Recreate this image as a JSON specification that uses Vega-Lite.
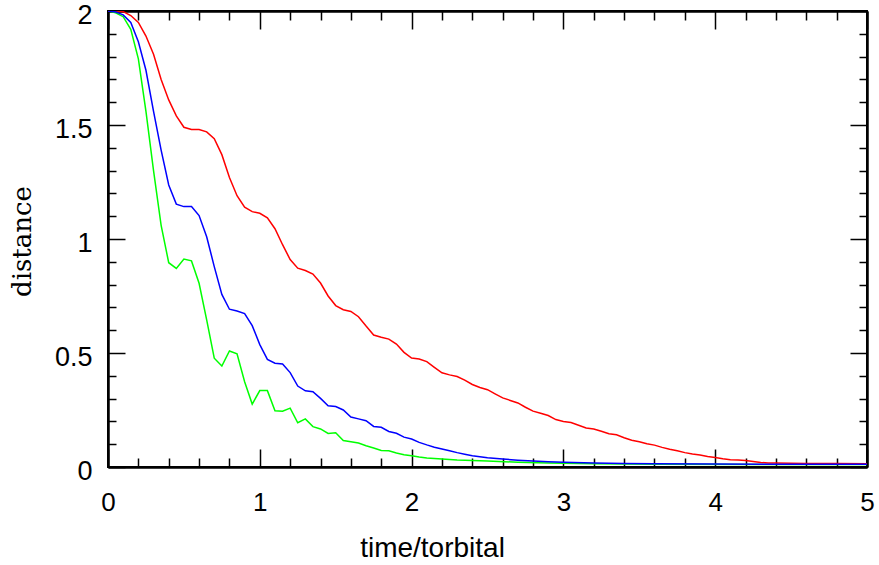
{
  "$schema": "https://vega.github.io/schema/vega-lite/v6.json",
  "width": 759,
  "height": 456,
  "autosize": "none",
  "padding": {"left": 108, "top": 11, "right": 12, "bottom": 98},
  "background": "white",
  "config": {
    "view": {"stroke": "black", "strokeWidth": 2},
    "axis": {"grid": false, "domainColor": "black", "domainWidth": 2, "tickColor": "black", "tickWidth": 1.5, "labelColor": "black", "titleColor": "black"}
  },
  "datasets": {
    "curves": [
      {"s": "green", "t": 0, "d": 2.0}, {"s": "green", "t": 0.05, "d": 1.992}, {"s": "green", "t": 0.1, "d": 1.975}, {"s": "green", "t": 0.15, "d": 1.92}, {"s": "green", "t": 0.2, "d": 1.79}, {"s": "green", "t": 0.25, "d": 1.56}, {"s": "green", "t": 0.3, "d": 1.3}, {"s": "green", "t": 0.35, "d": 1.06}, {"s": "green", "t": 0.4, "d": 0.896}, {"s": "green", "t": 0.45, "d": 0.871}, {"s": "green", "t": 0.5, "d": 0.912}, {"s": "green", "t": 0.55, "d": 0.904}, {"s": "green", "t": 0.6, "d": 0.806}, {"s": "green", "t": 0.65, "d": 0.645}, {"s": "green", "t": 0.7, "d": 0.477}, {"s": "green", "t": 0.75, "d": 0.443}, {"s": "green", "t": 0.8, "d": 0.509}, {"s": "green", "t": 0.85, "d": 0.496}, {"s": "green", "t": 0.9, "d": 0.374}, {"s": "green", "t": 0.95, "d": 0.276}, {"s": "green", "t": 1.0, "d": 0.335}, {"s": "green", "t": 1.05, "d": 0.335}, {"s": "green", "t": 1.1, "d": 0.247}, {"s": "green", "t": 1.15, "d": 0.245}, {"s": "green", "t": 1.2, "d": 0.258}, {"s": "green", "t": 1.25, "d": 0.194}, {"s": "green", "t": 1.3, "d": 0.211}, {"s": "green", "t": 1.35, "d": 0.177}, {"s": "green", "t": 1.4, "d": 0.167}, {"s": "green", "t": 1.45, "d": 0.147}, {"s": "green", "t": 1.5, "d": 0.15}, {"s": "green", "t": 1.55, "d": 0.116}, {"s": "green", "t": 1.6, "d": 0.111}, {"s": "green", "t": 1.65, "d": 0.105}, {"s": "green", "t": 1.7, "d": 0.093}, {"s": "green", "t": 1.75, "d": 0.083}, {"s": "green", "t": 1.8, "d": 0.072}, {"s": "green", "t": 1.85, "d": 0.071}, {"s": "green", "t": 1.9, "d": 0.061}, {"s": "green", "t": 1.95, "d": 0.054}, {"s": "green", "t": 2.0, "d": 0.049}, {"s": "green", "t": 2.05, "d": 0.044}, {"s": "green", "t": 2.1, "d": 0.04}, {"s": "green", "t": 2.2, "d": 0.035}, {"s": "green", "t": 2.3, "d": 0.031}, {"s": "green", "t": 2.5, "d": 0.026}, {"s": "green", "t": 2.7, "d": 0.021}, {"s": "green", "t": 2.9, "d": 0.017}, {"s": "green", "t": 3.2, "d": 0.014}, {"s": "green", "t": 3.6, "d": 0.012}, {"s": "green", "t": 5.0, "d": 0.011},
      {"s": "red", "t": 0, "d": 2.0}, {"s": "red", "t": 0.05, "d": 2.0}, {"s": "red", "t": 0.1, "d": 1.997}, {"s": "red", "t": 0.15, "d": 1.98}, {"s": "red", "t": 0.2, "d": 1.95}, {"s": "red", "t": 0.25, "d": 1.89}, {"s": "red", "t": 0.3, "d": 1.81}, {"s": "red", "t": 0.35, "d": 1.7}, {"s": "red", "t": 0.4, "d": 1.61}, {"s": "red", "t": 0.45, "d": 1.54}, {"s": "red", "t": 0.5, "d": 1.49}, {"s": "red", "t": 0.55, "d": 1.48}, {"s": "red", "t": 0.6, "d": 1.48}, {"s": "red", "t": 0.65, "d": 1.47}, {"s": "red", "t": 0.7, "d": 1.44}, {"s": "red", "t": 0.75, "d": 1.37}, {"s": "red", "t": 0.8, "d": 1.27}, {"s": "red", "t": 0.85, "d": 1.19}, {"s": "red", "t": 0.9, "d": 1.14}, {"s": "red", "t": 0.95, "d": 1.12}, {"s": "red", "t": 1.0, "d": 1.113}, {"s": "red", "t": 1.05, "d": 1.093}, {"s": "red", "t": 1.1, "d": 1.045}, {"s": "red", "t": 1.15, "d": 0.975}, {"s": "red", "t": 1.2, "d": 0.91}, {"s": "red", "t": 1.25, "d": 0.872}, {"s": "red", "t": 1.3, "d": 0.862}, {"s": "red", "t": 1.35, "d": 0.846}, {"s": "red", "t": 1.4, "d": 0.807}, {"s": "red", "t": 1.45, "d": 0.75}, {"s": "red", "t": 1.5, "d": 0.708}, {"s": "red", "t": 1.55, "d": 0.69}, {"s": "red", "t": 1.6, "d": 0.682}, {"s": "red", "t": 1.65, "d": 0.659}, {"s": "red", "t": 1.7, "d": 0.618}, {"s": "red", "t": 1.75, "d": 0.579}, {"s": "red", "t": 1.8, "d": 0.569}, {"s": "red", "t": 1.85, "d": 0.561}, {"s": "red", "t": 1.9, "d": 0.539}, {"s": "red", "t": 1.95, "d": 0.503}, {"s": "red", "t": 2.0, "d": 0.478}, {"s": "red", "t": 2.05, "d": 0.474}, {"s": "red", "t": 2.1, "d": 0.462}, {"s": "red", "t": 2.15, "d": 0.437}, {"s": "red", "t": 2.2, "d": 0.413}, {"s": "red", "t": 2.25, "d": 0.404}, {"s": "red", "t": 2.3, "d": 0.397}, {"s": "red", "t": 2.35, "d": 0.381}, {"s": "red", "t": 2.4, "d": 0.362}, {"s": "red", "t": 2.45, "d": 0.349}, {"s": "red", "t": 2.5, "d": 0.339}, {"s": "red", "t": 2.55, "d": 0.321}, {"s": "red", "t": 2.6, "d": 0.303}, {"s": "red", "t": 2.65, "d": 0.292}, {"s": "red", "t": 2.7, "d": 0.281}, {"s": "red", "t": 2.75, "d": 0.262}, {"s": "red", "t": 2.8, "d": 0.245}, {"s": "red", "t": 2.85, "d": 0.236}, {"s": "red", "t": 2.9, "d": 0.226}, {"s": "red", "t": 2.95, "d": 0.208}, {"s": "red", "t": 3.0, "d": 0.2}, {"s": "red", "t": 3.05, "d": 0.195}, {"s": "red", "t": 3.1, "d": 0.183}, {"s": "red", "t": 3.15, "d": 0.171}, {"s": "red", "t": 3.2, "d": 0.167}, {"s": "red", "t": 3.25, "d": 0.157}, {"s": "red", "t": 3.3, "d": 0.146}, {"s": "red", "t": 3.35, "d": 0.141}, {"s": "red", "t": 3.4, "d": 0.128}, {"s": "red", "t": 3.45, "d": 0.117}, {"s": "red", "t": 3.5, "d": 0.111}, {"s": "red", "t": 3.55, "d": 0.102}, {"s": "red", "t": 3.6, "d": 0.096}, {"s": "red", "t": 3.65, "d": 0.086}, {"s": "red", "t": 3.7, "d": 0.078}, {"s": "red", "t": 3.75, "d": 0.071}, {"s": "red", "t": 3.8, "d": 0.063}, {"s": "red", "t": 3.85, "d": 0.057}, {"s": "red", "t": 3.9, "d": 0.053}, {"s": "red", "t": 3.95, "d": 0.046}, {"s": "red", "t": 4.0, "d": 0.042}, {"s": "red", "t": 4.05, "d": 0.036}, {"s": "red", "t": 4.1, "d": 0.032}, {"s": "red", "t": 4.15, "d": 0.031}, {"s": "red", "t": 4.2, "d": 0.028}, {"s": "red", "t": 4.25, "d": 0.024}, {"s": "red", "t": 4.3, "d": 0.02}, {"s": "red", "t": 4.35, "d": 0.018}, {"s": "red", "t": 4.4, "d": 0.017}, {"s": "red", "t": 4.5, "d": 0.016}, {"s": "red", "t": 4.6, "d": 0.015}, {"s": "red", "t": 4.8, "d": 0.015}, {"s": "red", "t": 5.0, "d": 0.014},
      {"s": "blue", "t": 0, "d": 2.0}, {"s": "blue", "t": 0.05, "d": 1.996}, {"s": "blue", "t": 0.1, "d": 1.983}, {"s": "blue", "t": 0.15, "d": 1.95}, {"s": "blue", "t": 0.2, "d": 1.865}, {"s": "blue", "t": 0.25, "d": 1.74}, {"s": "blue", "t": 0.3, "d": 1.56}, {"s": "blue", "t": 0.35, "d": 1.39}, {"s": "blue", "t": 0.4, "d": 1.237}, {"s": "blue", "t": 0.45, "d": 1.153}, {"s": "blue", "t": 0.5, "d": 1.142}, {"s": "blue", "t": 0.55, "d": 1.142}, {"s": "blue", "t": 0.6, "d": 1.103}, {"s": "blue", "t": 0.65, "d": 1.01}, {"s": "blue", "t": 0.7, "d": 0.879}, {"s": "blue", "t": 0.75, "d": 0.757}, {"s": "blue", "t": 0.8, "d": 0.692}, {"s": "blue", "t": 0.85, "d": 0.684}, {"s": "blue", "t": 0.9, "d": 0.673}, {"s": "blue", "t": 0.95, "d": 0.62}, {"s": "blue", "t": 1.0, "d": 0.537}, {"s": "blue", "t": 1.05, "d": 0.472}, {"s": "blue", "t": 1.1, "d": 0.455}, {"s": "blue", "t": 1.15, "d": 0.452}, {"s": "blue", "t": 1.2, "d": 0.414}, {"s": "blue", "t": 1.25, "d": 0.355}, {"s": "blue", "t": 1.3, "d": 0.334}, {"s": "blue", "t": 1.35, "d": 0.33}, {"s": "blue", "t": 1.4, "d": 0.301}, {"s": "blue", "t": 1.45, "d": 0.269}, {"s": "blue", "t": 1.5, "d": 0.265}, {"s": "blue", "t": 1.55, "d": 0.25}, {"s": "blue", "t": 1.6, "d": 0.219}, {"s": "blue", "t": 1.65, "d": 0.211}, {"s": "blue", "t": 1.7, "d": 0.203}, {"s": "blue", "t": 1.75, "d": 0.178}, {"s": "blue", "t": 1.8, "d": 0.174}, {"s": "blue", "t": 1.85, "d": 0.156}, {"s": "blue", "t": 1.9, "d": 0.148}, {"s": "blue", "t": 1.95, "d": 0.131}, {"s": "blue", "t": 2.0, "d": 0.123}, {"s": "blue", "t": 2.05, "d": 0.108}, {"s": "blue", "t": 2.1, "d": 0.097}, {"s": "blue", "t": 2.15, "d": 0.087}, {"s": "blue", "t": 2.2, "d": 0.079}, {"s": "blue", "t": 2.25, "d": 0.071}, {"s": "blue", "t": 2.3, "d": 0.063}, {"s": "blue", "t": 2.35, "d": 0.056}, {"s": "blue", "t": 2.4, "d": 0.049}, {"s": "blue", "t": 2.5, "d": 0.041}, {"s": "blue", "t": 2.6, "d": 0.035}, {"s": "blue", "t": 2.7, "d": 0.03}, {"s": "blue", "t": 2.8, "d": 0.026}, {"s": "blue", "t": 2.9, "d": 0.023}, {"s": "blue", "t": 3.0, "d": 0.021}, {"s": "blue", "t": 3.2, "d": 0.017}, {"s": "blue", "t": 3.4, "d": 0.015}, {"s": "blue", "t": 3.6, "d": 0.014}, {"s": "blue", "t": 4.0, "d": 0.013}, {"s": "blue", "t": 4.5, "d": 0.012}, {"s": "blue", "t": 5.0, "d": 0.012}
    ]
  },
  "data": {"name": "curves"},
  "layer": [
    {
      "mark": {"type": "line", "strokeWidth": 1.5, "clip": true},
      "encoding": {
        "x": {"field": "t", "type": "quantitative", "scale": {"domain": [0, 5], "nice": false, "zero": false},
          "axis": {"orient": "bottom", "values": [0, 1, 2, 3, 4, 5], "format": "~g", "tickSize": -18, "labelPadding": 40, "labelFont": "Liberation Sans", "labelFontSize": 26, "labelFlush": false, "labelOverlap": false,
            "title": "time/torbital", "titleFont": "Liberation Sans", "titleFontSize": 28, "titleFontWeight": "normal", "titleX": 324, "titleY": 89, "titleBaseline": "alphabetic", "titleAnchor": null}},
        "y": {"field": "d", "type": "quantitative", "scale": {"domain": [0, 2], "nice": false, "zero": false},
          "axis": {"orient": "left", "values": [0, 0.5, 1, 1.5, 2], "format": "~g", "tickSize": -17, "labelPadding": 33, "labelOffset": 4, "labelFont": "Liberation Sans", "labelFontSize": 27, "labelFlush": false, "labelOverlap": false,
            "title": "distance", "titleFont": "DejaVu Serif", "titleFontSize": 26, "titleFontWeight": "normal", "titleX": -86, "titleY": 230, "titleAngle": 270, "titleBaseline": "middle", "titleAlign": "center"}},
        "color": {"field": "s", "type": "nominal", "scale": {"domain": ["green", "red", "blue"], "range": ["#00ff00", "#ff0000", "#0000ff"]}, "legend": null}
      }
    },
    {
      "mark": {"type": "line", "opacity": 0},
      "encoding": {
        "x": {"field": "t", "type": "quantitative", "axis": {"orient": "top", "values": [0, 1, 2, 3, 4, 5], "tickSize": -18, "labels": false, "title": null}},
        "y": {"field": "d", "type": "quantitative", "axis": {"orient": "right", "values": [0, 0.5, 1, 1.5, 2], "tickSize": -17, "labels": false, "title": null}}
      }
    },
    {
      "mark": {"type": "line", "opacity": 0},
      "encoding": {
        "x": {"field": "t", "type": "quantitative", "axis": {"orient": "bottom", "values": [0.2, 0.4, 0.6, 0.8, 1.2, 1.4, 1.6, 1.8, 2.2, 2.4, 2.6, 2.8, 3.2, 3.4, 3.6, 3.8, 4.2, 4.4, 4.6, 4.8], "tickSize": -9, "labels": false, "title": null}},
        "y": {"field": "d", "type": "quantitative", "axis": {"orient": "left", "values": [0.1, 0.2, 0.3, 0.4, 0.6, 0.7, 0.8, 0.9, 1.1, 1.2, 1.3, 1.4, 1.6, 1.7, 1.8, 1.9], "tickSize": -8, "labels": false, "title": null}}
      }
    },
    {
      "mark": {"type": "line", "opacity": 0},
      "encoding": {
        "x": {"field": "t", "type": "quantitative", "axis": {"orient": "top", "values": [0.2, 0.4, 0.6, 0.8, 1.2, 1.4, 1.6, 1.8, 2.2, 2.4, 2.6, 2.8, 3.2, 3.4, 3.6, 3.8, 4.2, 4.4, 4.6, 4.8], "tickSize": -9, "labels": false, "title": null}},
        "y": {"field": "d", "type": "quantitative", "axis": {"orient": "right", "values": [0.1, 0.2, 0.3, 0.4, 0.6, 0.7, 0.8, 0.9, 1.1, 1.2, 1.3, 1.4, 1.6, 1.7, 1.8, 1.9], "tickSize": -8, "labels": false, "title": null}}
      }
    }
  ],
  "resolve": {"axis": {"x": "independent", "y": "independent"}}
}
